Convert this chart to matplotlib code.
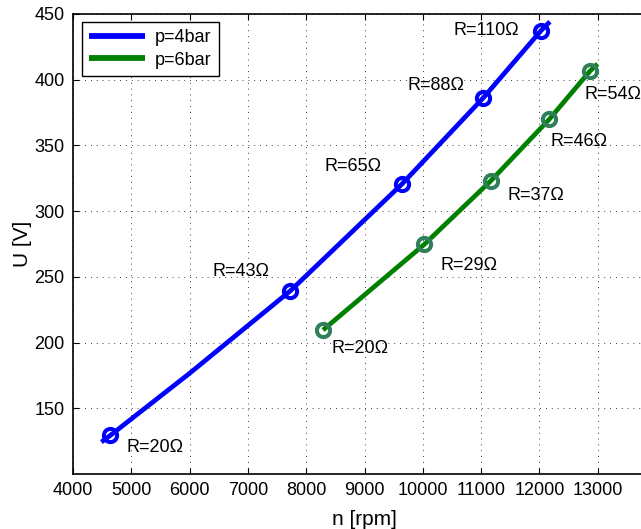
import numpy as np
import matplotlib
matplotlib.use("Agg")
import matplotlib.pyplot as plt

plt.rcParams["font.family"] = ["Liberation Sans", "DejaVu Sans"]

# ============================
# DATA
# ============================
# operating points, p = 4 bar
n_4bar = [4641, 7727, 9638, 11040, 12027]
u_4bar = [129.4, 239.3, 320.4, 386.3, 437.3]
r_4bar = [20, 43, 65, 88, 110]

# curve through the points, p = 4 bar (ends + one reading between)
n_4bar_line = [4487, 4641, 6000, 7727, 9638, 11040, 12027, 12180]
u_4bar_line = [124.3, 129.4, 176.6, 239.3, 320.4, 386.3, 437.3, 444.1]

# operating points, p = 6 bar
n_6bar = [8288, 10026, 11170, 12170, 12868]
u_6bar = [209.5, 274.7, 323.2, 369.9, 406.6]
r_6bar = [20, 29, 37, 46, 54]

n_6bar_line = [8288, 10026, 11170, 12170, 12868, 12998]
u_6bar_line = [209.5, 274.7, 323.2, 369.9, 406.6, 412.0]

# label anchors (left edge, vertical centre) in data coords
lab_4bar_n = [4921, 6396, 8322, 9739, 10523]
lab_4bar_u = [120.0, 253.9, 333.8, 395.2, 437.3]
lab_6bar_n = [8437, 10300, 11453, 12182, 12771]
lab_6bar_u = [195.7, 259.0, 311.7, 352.8, 388.4]

x_ticks = list(range(4000, 14000, 1000))
y_ticks = list(range(150, 451, 50))

BLUE = "#0000ff"
GREEN = "#008000"
GREEN_MK = "#2e7f5a"

# ============================
# PLOT
# ============================
fig = plt.figure(figsize=(6.41, 5.29), dpi=100)
ax = fig.add_axes([0.1139, 0.104, 0.9095, 0.8696])

ax.plot(n_4bar_line, u_4bar_line, color=BLUE, lw=3.4, label="p=4bar",
        solid_capstyle="butt", zorder=3)
ax.plot(n_6bar_line, u_6bar_line, color=GREEN, lw=3.4, label="p=6bar",
        solid_capstyle="butt", zorder=3)

ax.plot(n_4bar, u_4bar, "o", ms=9.5, mfc="none", mec=BLUE, mew=2.9, zorder=4)
ax.plot(n_6bar, u_6bar, "o", ms=9.5, mfc="none", mec=GREEN_MK, mew=2.9, zorder=4)

for x, y, r in zip(lab_4bar_n, lab_4bar_u, r_4bar):
    ax.text(x, y, f"R={r}\u03a9", fontsize=13, ha="left", va="center")
for x, y, r in zip(lab_6bar_n, lab_6bar_u, r_6bar):
    ax.text(x, y, f"R={r}\u03a9", fontsize=13, ha="left", va="center")

ax.set_xlim(4000, 14000)
ax.set_ylim(100, 450)
ax.set_xticks(x_ticks)
ax.set_yticks(y_ticks)
ax.tick_params(direction="in", top=True, right=True, length=4, width=0.8,
               labelsize=13, pad=6)
ax.grid(True, linestyle=(0, (1, 6)), color="black", lw=0.6)
for s in ax.spines.values():
    s.set_linewidth(1.2)

ax.set_xlabel("n [rpm]", fontsize=15, labelpad=8)
ax.set_ylabel("U [V]", fontsize=15, labelpad=2)

leg = ax.legend(loc="upper left", bbox_to_anchor=(0.0149, 0.9826),
                borderaxespad=0, fancybox=False, framealpha=1,
                edgecolor="black", fontsize=13, handlelength=3.1,
                handletextpad=0.55, borderpad=0.4, labelspacing=0.3)
leg.get_frame().set_linewidth(1.0)
for h in leg.get_lines():
    h.set_linewidth(4.2)

fig.savefig("out.png", dpi=100)
